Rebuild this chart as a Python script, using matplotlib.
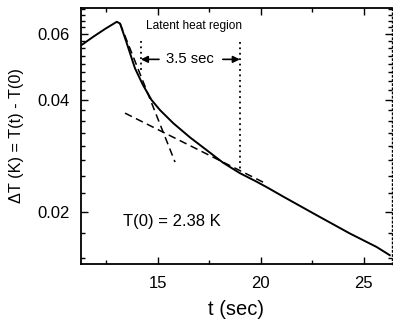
import numpy as np
import matplotlib
matplotlib.use("Agg")
import matplotlib.pyplot as plt
from matplotlib.ticker import FixedLocator, NullFormatter, FixedFormatter

plt.rcParams['font.family'] = ['Liberation Sans', 'DejaVu Sans']

t_data = [11.30, 11.86, 12.43, 13.00, 13.16, 13.48, 13.88, 14.27, 14.69, 15.10,
          15.74, 16.55, 17.36, 18.16, 18.98, 19.79, 20.34, 21.07, 22.70, 24.32,
          25.62, 26.26]
dT_data = [0.0561, 0.0590, 0.0619, 0.0647, 0.0640, 0.0568, 0.0486, 0.0438, 0.0399, 0.0375,
           0.0346, 0.0317, 0.0293, 0.0271, 0.0254, 0.0241, 0.0232, 0.0220, 0.0196, 0.0175,
           0.0161, 0.0153]

# two exponential fits (dashed)
fit1_t = [13.16, 15.83]
fit1_dT = [0.0640, 0.0272]
fit2_t = [13.40, 20.19]
fit2_dT = [0.0368, 0.0239]

# latent heat region markers
mark1_t, mark1_dT = 14.17, [0.0573, 0.0480]
mark2_t, mark2_dT = 18.98, [0.0571, 0.0256]

fig = plt.figure(figsize=(3.93, 3.25), dpi=100)
ax = fig.add_axes([0.206, 0.188, 0.791, 0.787])

ax.plot(t_data, dT_data, color='black', lw=1.4)
ax.plot(fit1_t, fit1_dT, color='black', lw=1.1, ls=(0, (5, 3)))
ax.plot(fit2_t, fit2_dT, color='black', lw=1.1, ls=(0, (5, 3)))
ax.plot([mark1_t, mark1_t], mark1_dT, color='black', lw=1.3, ls=(0, (1, 2)))
ax.plot([mark2_t, mark2_t], mark2_dT, color='black', lw=1.3, ls=(0, (1, 2)))

ax.set_yscale('log')
ax.set_xlim(11.26, 26.36)
ax.set_ylim(0.0145, 0.0704)

ax.xaxis.set_major_locator(FixedLocator([15, 20, 25]))
ax.xaxis.set_minor_locator(FixedLocator([12.5, 17.5, 22.5]))
ax.yaxis.set_major_locator(FixedLocator([0.02, 0.04, 0.06]))
ax.yaxis.set_major_formatter(FixedFormatter(['0.02', '0.04', '0.06']))
minor_y = [v for v in np.arange(0.015, 0.0701, 0.0025)
           if min(abs(v - m) for m in [0.02, 0.04, 0.06]) > 1e-6]
ax.yaxis.set_minor_locator(FixedLocator(minor_y))
ax.yaxis.set_minor_formatter(NullFormatter())

ax.tick_params(which='both', direction='in', top=True, right=True,
               width=1.0, labelsize=12)
ax.tick_params(axis='y', pad=8)
ax.tick_params(axis='x', pad=9)
ax.tick_params(which='major', length=5)
ax.tick_params(which='minor', length=3)
for s in ['left', 'bottom', 'top']:
    ax.spines[s].set_linewidth(1.3)
ax.spines['right'].set_linestyle((0, (1, 2)))
ax.spines['right'].set_linewidth(1.0)

ax.set_xlabel('t (sec)', fontsize=14.5, labelpad=6)
ax.set_ylabel('ΔT (K) = T(t) - T(0)', fontsize=11.7, labelpad=10)

ax.text(16.75, 0.0630, 'Latent heat region', fontsize=8.6, ha='center', va='center')
ax.text(16.55, 0.0513, '3.5 sec', fontsize=10.7, ha='center', va='center')
ax.annotate('', xy=(mark1_t, 0.0513), xytext=(15.05, 0.0513),
            arrowprops=dict(arrowstyle='-|>', color='black', lw=1.2,
                            mutation_scale=10, shrinkA=0, shrinkB=0))
ax.annotate('', xy=(mark2_t, 0.0513), xytext=(18.15, 0.0513),
            arrowprops=dict(arrowstyle='-|>', color='black', lw=1.2,
                            mutation_scale=10, shrinkA=0, shrinkB=0))
ax.text(13.3, 0.0189, 'T(0) = 2.38 K', fontsize=12, ha='left', va='center')

fig.savefig('out.png', dpi=100)
